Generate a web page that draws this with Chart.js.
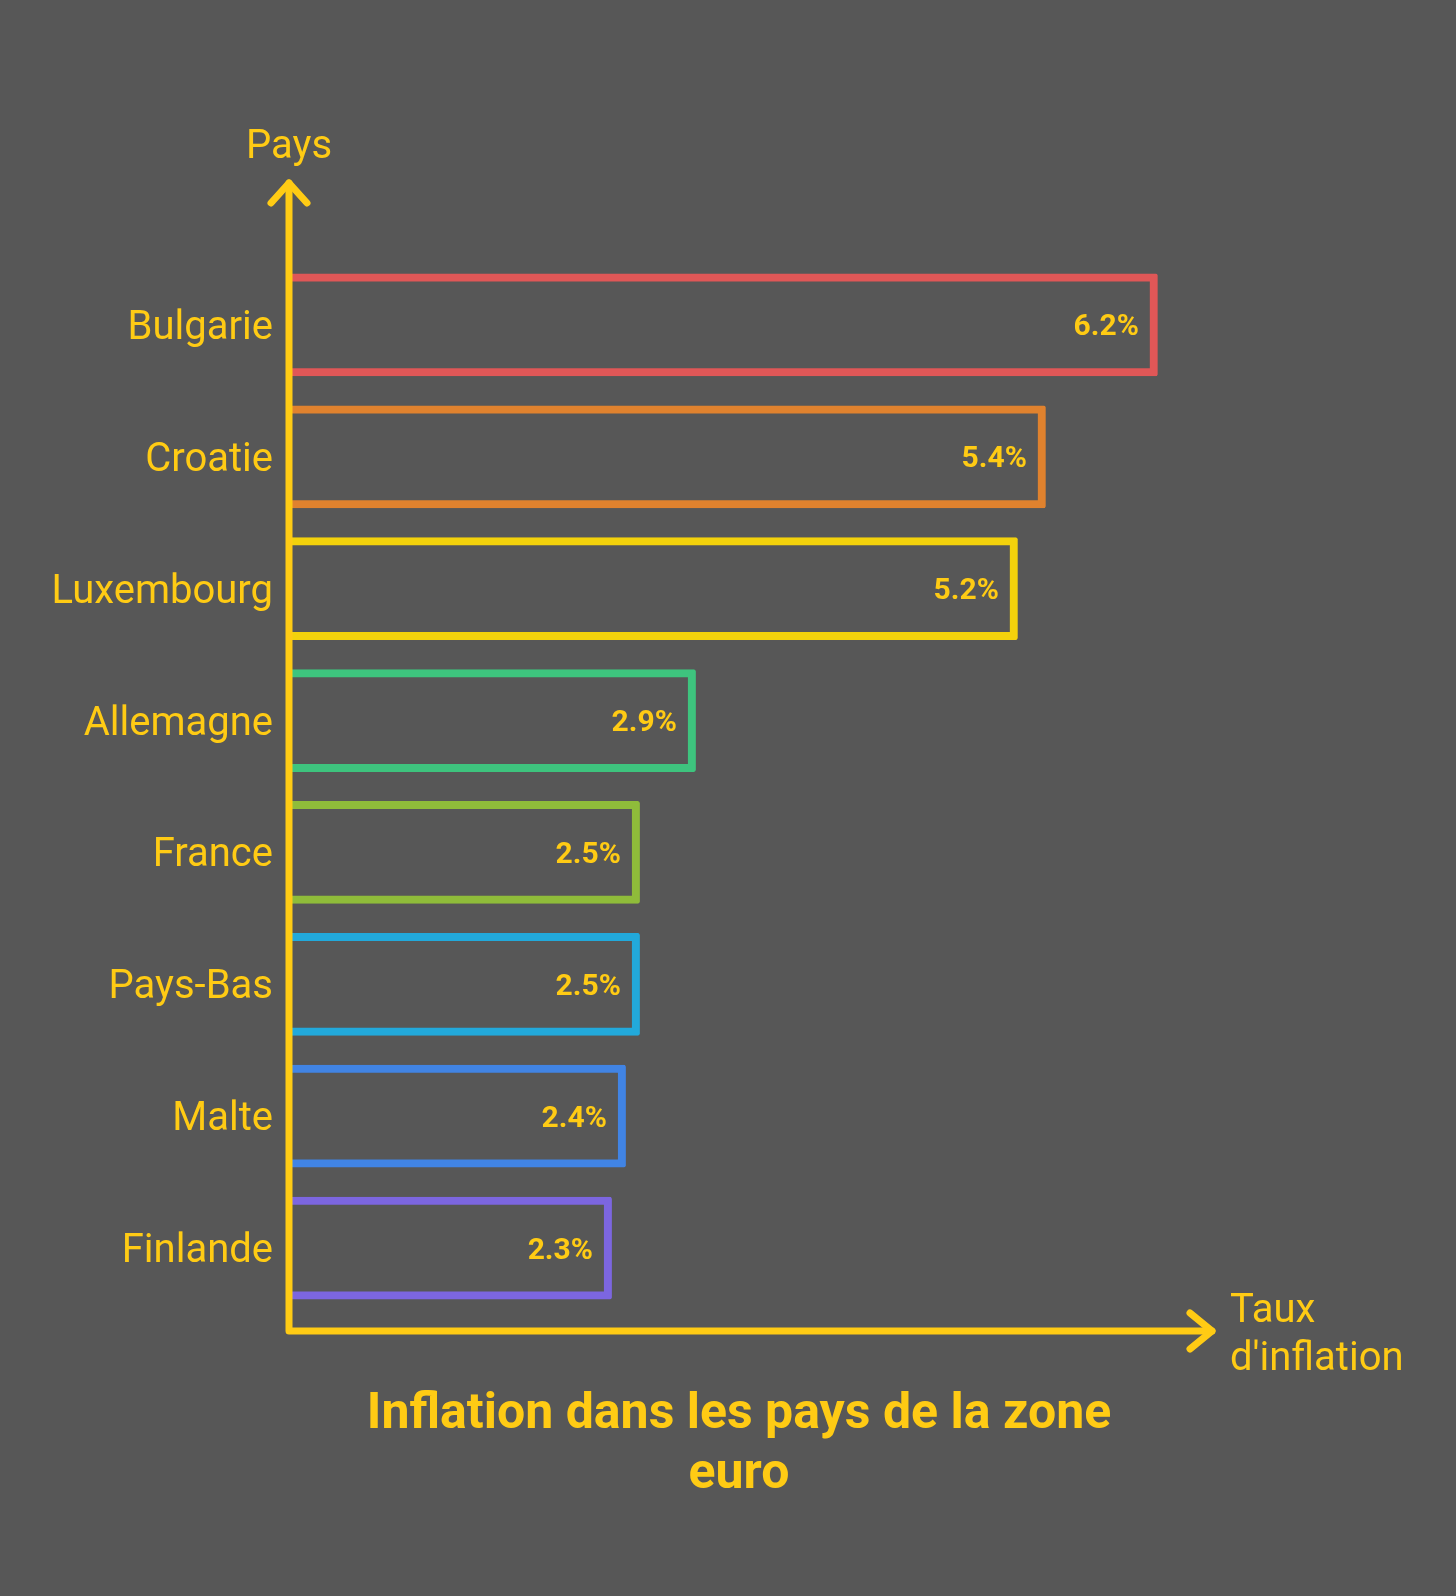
<!DOCTYPE html>
<html>
<head>
<meta charset="utf-8">
<script src="https://cdn.jsdelivr.net/npm/chart.js@4.4.1/dist/chart.umd.min.js"></script>
<style>
  html, body { margin: 0; padding: 0; background: #575757; }
  #wrap { width: 1456px; height: 1596px; }
</style>
</head>
<body>
<div id="wrap"><canvas id="chart" width="1456" height="1596"></canvas></div>
<script>
// data
const countries = ['Bulgarie', 'Croatie', 'Luxembourg', 'Allemagne', 'France', 'Pays-Bas', 'Malte', 'Finlande'];
const inflation = [6.2, 5.4, 5.2, 2.9, 2.5, 2.5, 2.4, 2.3];
const barColors = ['#e05757', '#e0822e', '#f3d20c', '#3ec47e', '#8fbc3a', '#22a9db', '#4184e4', '#7c66e0'];
const titleLines = ['Inflation dans les pays de la zone', 'euro'];
const yAxisTitle = 'Pays';
const xAxisTitle = ['Taux', "d'inflation"];

const YELLOW = '#ffcb14';
const FONT = 'Roboto, "Noto Sans", sans-serif';

// value labels at the end of each bar
const valueLabels = {
    id: 'valueLabels',
    afterDatasetsDraw(chart) {
        const ctx = chart.ctx;
        const meta = chart.getDatasetMeta(0);
        ctx.save();
        ctx.font = 'bold 30px ' + FONT;
        ctx.fillStyle = YELLOW;
        ctx.textAlign = 'right';
        ctx.textBaseline = 'middle';
        meta.data.forEach((bar, i) => {
            ctx.fillText(inflation[i].toFixed(1) + '%', bar.x - 19, bar.y + 3);
        });
        ctx.restore();
    }
};

// hand drawn axes with arrows + titles
const axesAndTitles = {
    id: 'axesAndTitles',
    afterDraw(chart) {
        const ctx = chart.ctx;
        const area = chart.chartArea;
        const x0 = area.left - 1;
        const yTop = area.top - 76;
        const yBottom = area.bottom + 17;
        const xEnd = area.right + 1;
        ctx.save();
        ctx.strokeStyle = YELLOW;
        ctx.lineWidth = 7;
        ctx.lineCap = 'round';
        ctx.lineJoin = 'round';
        ctx.beginPath();
        ctx.moveTo(x0, yTop);
        ctx.lineTo(x0, yBottom);
        ctx.lineTo(xEnd, yBottom);
        ctx.stroke();
        // arrow heads
        ctx.beginPath();
        ctx.moveTo(x0 - 18, yTop + 20);
        ctx.lineTo(x0, yTop);
        ctx.lineTo(x0 + 18, yTop + 20);
        ctx.moveTo(xEnd - 22, yBottom - 18);
        ctx.lineTo(xEnd, yBottom);
        ctx.lineTo(xEnd - 22, yBottom + 18);
        ctx.stroke();

        ctx.fillStyle = YELLOW;
        ctx.font = '40px ' + FONT;
        ctx.textBaseline = 'middle';
        ctx.textAlign = 'center';
        ctx.fillText(yAxisTitle, x0, 148);
        ctx.textAlign = 'left';
        ctx.fillText(xAxisTitle[0], 1230, 1312);
        ctx.fillText(xAxisTitle[1], 1230, 1360);

        // title
        ctx.font = 'bold 50px ' + FONT;
        ctx.textAlign = 'center';
        titleLines.forEach((line, i) => {
            ctx.fillText(line, 739, 1415 + i * 60);
        });
        ctx.restore();
    }
};

new Chart(document.getElementById('chart'), {
    type: 'bar',
    data: {
        labels: countries,
        datasets: [{
            data: inflation,
            backgroundColor: 'rgba(0,0,0,0)',
            borderColor: barColors,
            borderWidth: 8,
            borderSkipped: 'start',
            borderRadius: 2,
            barPercentage: 0.78,
            categoryPercentage: 1
        }]
    },
    options: {
        indexAxis: 'y',
        responsive: false,
        animation: false,
        layout: { padding: { top: 259, bottom: 282, left: 0, right: 245 } },
        plugins: {
            legend: { display: false },
            tooltip: { enabled: false },
            title: { display: false }
        },
        scales: {
            x: { display: false, min: 0, max: 6.58 },
            y: {
                grid: { display: false },
                border: { display: false },
                ticks: { color: YELLOW, font: { family: FONT, size: 40 }, padding: 9, labelOffset: 4 },
                afterFit(scale) { scale.width = 290; }
            }
        }
    },
    plugins: [valueLabels, axesAndTitles]
});
</script>
</body>
</html>
